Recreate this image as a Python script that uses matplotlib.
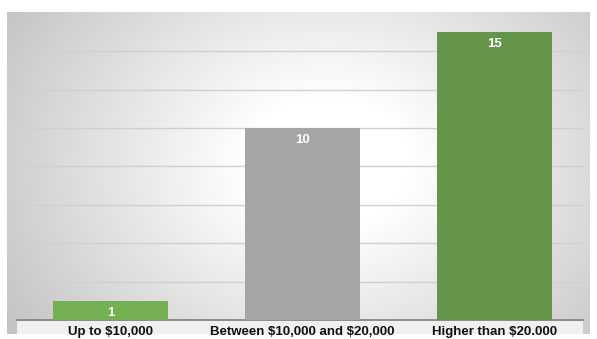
import numpy as np
import matplotlib
matplotlib.use("Agg")
import matplotlib.pyplot as plt
from matplotlib.patches import Rectangle

plt.rcParams["text.parse_math"] = False

categories = ["Up to $10,000", "Between $10,000 and $20,000", "Higher than $20.000"]
values = [1, 10, 15]
bar_colors = ["#74AF52", "#A5A5A5", "#65954A"]

W, H = 597, 339
fig = plt.figure(figsize=(W / 100, H / 100), dpi=100)
fig.patch.set_facecolor("white")

# background radial gradient
bg = fig.add_axes([7 / W, 5 / H, 583 / W, 322 / H])
bg.set_axis_off()
bg.set_zorder(0)
yy, xx = np.mgrid[0:322, 0:583]
cx, cy = 320, 150
d = np.sqrt(((xx - cx) / 330) ** 2 + ((yy - cy) / 260) ** 2)
v = 1.0 - 0.22 * np.clip(d - 0.25, 0, None) / 0.85
v = np.clip(v, 0.77, 1.0)
img = np.dstack([v, v, v])
bg.imshow(img, aspect="auto", extent=[0, 1, 0, 1], interpolation="bilinear")
bg.set_xlim(0, 1)
bg.set_ylim(0, 1)
# label strip
bg.add_patch(Rectangle((10 / 583, 0), 566 / 583, 13 / 322, transform=bg.transAxes,
                       facecolor="#F0F0F0", edgecolor="none", zorder=2))

ax = fig.add_axes([17 / W, 19 / H, 566 / W, 307.2 / H])
ax.set_zorder(2)
ax.patch.set_alpha(0)
x = np.arange(len(categories))
bars = ax.bar(x, values, width=0.6, color=bar_colors, zorder=3)
ax.set_xlim(-0.490, 2.462)
ax.set_ylim(0, 16)
ax.set_yticks(np.arange(0, 16, 2))
ax.yaxis.grid(True, color="#CFCFCF", linewidth=1)
ax.tick_params(axis="y", left=False, labelleft=False)
ax.tick_params(axis="x", bottom=False, pad=1)
for s in ["top", "right", "left"]:
    ax.spines[s].set_visible(False)
ax.spines["bottom"].set_color("#7F7F7F")
ax.spines["bottom"].set_linewidth(1.2)
ax.set_xticks(x)
ax.set_xticklabels(categories, fontsize=9.5, fontweight="bold", family="Liberation Sans", color="#111111")
for xi, v_ in zip(x, values):
    ax.text(xi, v_ - 0.3, str(v_), ha="center", va="top", color="white", fontsize=9.5,
            fontweight="bold", family="Liberation Sans", zorder=4)

fig.savefig("out.png", dpi=100)
